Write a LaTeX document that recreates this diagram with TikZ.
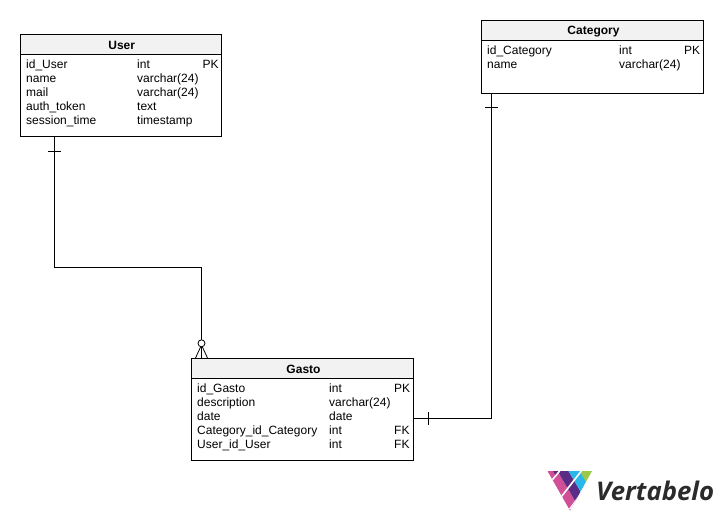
\documentclass[tikz,border=0pt]{standalone}
\usepackage{fontspec}
\setmainfont{Liberation Sans}
\newfontfamily\logofont{Open Sans}
\definecolor{hdr}{HTML}{F2F2F2}
\definecolor{lpink}{HTML}{D04F97}
\definecolor{lpurple}{HTML}{5B2C86}
\definecolor{lblue}{HTML}{29B6E8}
\definecolor{lgreen}{HTML}{9BC84A}
\definecolor{ldark}{HTML}{2B2B2B}
\tikzset{
  tbl/.style={draw=black,line width=1pt,fill=white,anchor=north west,inner sep=0pt,outer sep=0pt},
  hd/.style={draw=black,line width=1pt,fill=hdr,anchor=north west,inner sep=0pt,outer sep=0pt},
  title/.style={font=\fontsize{12}{14}\selectfont\bfseries,anchor=center,inner sep=0pt,xshift=1pt,yshift=-0.6pt},
  cell/.style={font=\fontsize{12}{14}\selectfont,anchor=base west,inner sep=0pt,yshift=-0.5pt},
  conn/.style={draw=black,line width=1pt},
  tick/.style={draw=black,line width=0.8pt},
}
\begin{document}
\begin{tikzpicture}[x=1pt,y=-1pt]
\useasboundingbox (0,0) rectangle (723,520);
\fill[white] (0,0) rectangle (723,520);
% connectors first
\coordinate (u1) at (54.5,136.5);
\coordinate (u2) at (54.5,267.5);
\coordinate (u3) at (201.5,267.5);
\coordinate (g1) at (201.5,340);
\coordinate (c1) at (491.5,93);
\coordinate (c2) at (491.5,418.5);
\coordinate (g2) at (413,418.5);
\draw[conn] (u1) -- (u2) -- (u3) -- (g1);
\draw[conn] (c1) -- (c2) -- (g2);
% ticks
\coordinate (t1a) at (48,151.5); \coordinate (t1b) at (61,151.5);
\draw[tick] (t1a) -- (t1b);
\coordinate (t2a) at (485,107.5); \coordinate (t2b) at (498,107.5);
\draw[tick] (t2a) -- (t2b);
\coordinate (t3a) at (428.5,412); \coordinate (t3b) at (428.5,425);
\draw[tick] (t3a) -- (t3b);
% crow foot
\coordinate (cf0) at (201.5,345);
\coordinate (cfl) at (195.5,358);
\coordinate (cfm) at (201.5,358);
\coordinate (cfr) at (207.5,358);
\draw[tick] (cf0) -- (cfl) (cf0) -- (cfm) (cf0) -- (cfr);
\node[circle,draw=black,line width=0.8pt,fill=white,minimum size=7pt,inner sep=0pt] (cfc) at (201.5,343.3) {};
% User
\node[tbl,minimum width=200.5pt,minimum height=102pt] (user) at (20.5,34.5) {};
\node[hd,minimum width=200.5pt,minimum height=20pt] (userh) at (20.5,34.5) {};
\node[title] at (userh.center) {User};
\foreach \y/\a/\b/\c in {68/id\_User/int/PK,82/name/varchar(24)/,96/mail/varchar(24)/,110/auth\_token/text/,124/session\_time/timestamp/}{
  \node[cell] at (26,\y) {\a};
  \node[cell] at (137,\y) {\b};
  \node[cell] at (202.5,\y) {\c};
}
% Category
\node[tbl,minimum width=222pt,minimum height=73pt] (cat) at (481.5,20.5) {};
\node[hd,minimum width=222pt,minimum height=20pt] (cath) at (481.5,20.5) {};
\node[title] at (cath.center) {Category};
\foreach \y/\a/\b/\c in {54/id\_Category/int/PK,68/name/varchar(24)/}{
  \node[cell] at (487,\y) {\a};
  \node[cell] at (619,\y) {\b};
  \node[cell] at (684,\y) {\c};
}
% Gasto
\node[tbl,minimum width=222pt,minimum height=102pt] (gasto) at (191.5,358.5) {};
\node[hd,minimum width=222pt,minimum height=20pt] (gastoh) at (191.5,358.5) {};
\node[title] at (gastoh.center) {Gasto};
\foreach \y/\a/\b/\c in {392/id\_Gasto/int/PK,406/description/varchar(24)/,420/date/date/,434/Category\_id\_Category/int/FK,448/User\_id\_User/int/FK}{
  \node[cell] at (197,\y) {\a};
  \node[cell] at (329,\y) {\b};
  \node[cell] at (394,\y) {\c};
}
% logo
\begin{scope}
\clip (547.5,471) -- (592,471) -- (570,510.5) -- cycle;
\fill[lpink] (547,471) -- (557.5,471) -- (581,511) -- (570,511) -- cycle;
\fill[lpurple] (557.5,471) -- (568.5,471) -- (592,511) -- (581,511) -- cycle;
\fill[lblue] (568.5,471) -- (580,471) -- (603.5,511) -- (592,511) -- cycle;
\fill[lgreen] (580,471) -- (593,471) -- (593,495) -- cycle;
\fill[lpurple] (553,471) -- (560,471) -- (556,476) -- cycle;
\draw[white,line width=1.6pt] (551.3,481) -- (559.7,471);
\draw[white,line width=1.6pt] (558,501) -- (581.3,471);
\draw[white,line width=1.6pt] (569.7,509.3) -- (591.3,479.3);
\end{scope}
\node[font=\logofont\fontsize{25.7}{28}\selectfont\itshape\bfseries,text=ldark,anchor=base west,inner sep=0pt] (logo) at (596,500) {Vertabelo};
\end{tikzpicture}
\end{document}
